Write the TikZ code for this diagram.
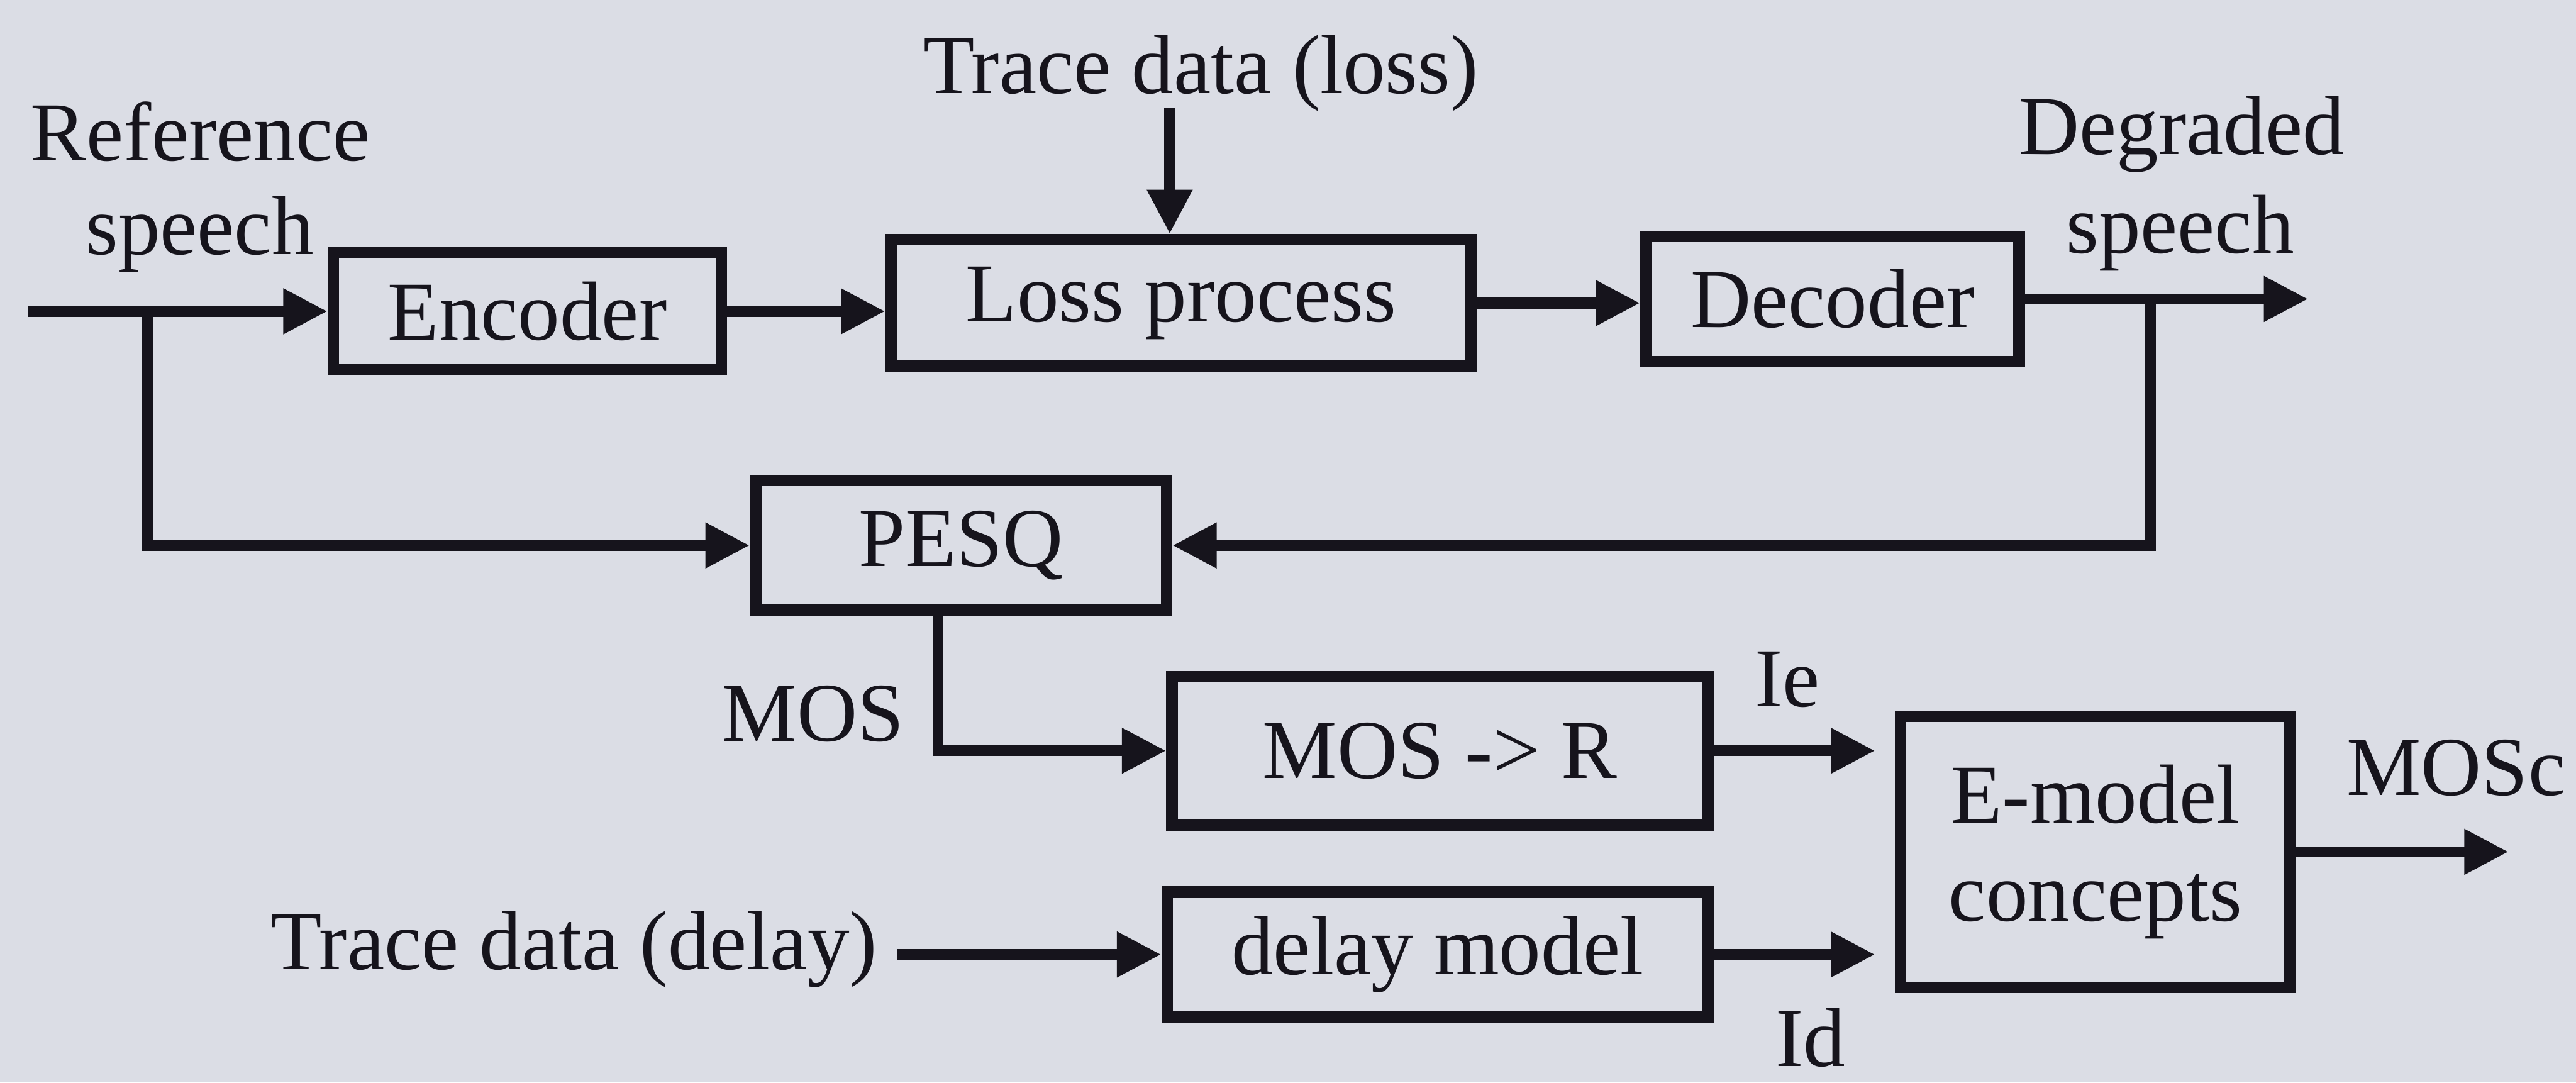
\documentclass[tikz,border=0pt]{standalone}
\usepackage{fontspec}
\setmainfont{Liberation Serif}
\usetikzlibrary{arrows.meta}
\definecolor{paper}{RGB}{219,221,229}
\definecolor{ink}{RGB}{22,20,28}
\begin{document}
\begin{tikzpicture}[x=0.01cm,y=-0.01cm,
    every node/.style={font=\fontsize{14.5}{17}\selectfont,text=ink},
    blk/.style 2 args={draw=ink,line width=2pt,minimum width=#1,minimum height=#2,inner sep=0pt},
    lbl/.style={anchor=base,inner sep=0pt},
    arr/.style={draw=ink,line width=1.9pt,-{Triangle[length=0.27cm,width=0.26cm]}}]
  \fill[paper] (0,0) rectangle (1568,659);
  \useasboundingbox (0,0) rectangle (1568,659);
  \node[blk={2.36cm}{0.71cm}] (enc) at (321,189.5) {Encoder};
  \node[blk={3.53cm}{0.77cm}] (loss) at (719,184.5) {Loss process};
  \node[blk={2.27cm}{0.76cm}] (dec) at (1115.5,182) {Decoder};
  \node[blk={2.50cm}{0.79cm}] (pesq) at (585,332) {PESQ};
  \node[blk={3.26cm}{0.90cm}] (mosr) at (876.5,457) {MOS -> R};
  \node[blk={3.29cm}{0.76cm}] (delay) at (875,581) {delay model};
  \node[blk={2.37cm}{1.65cm},align=center] (emod) at (1275.5,518.5) {E-model\\concepts};
  \node[lbl] (refa) at (122,98) {Reference};
  \node[lbl] (refb) at (121.5,155) {speech};
  \node[lbl] (dega) at (1328,94) {Degraded};
  \node[lbl] (degb) at (1327,154) {speech};
  \node[lbl] (tloss) at (731,57) {Trace data (loss)};
  \node[lbl] (mos) at (495,451) {MOS};
  \node[lbl] (ie) at (1088,430) {Ie};
  \node[lbl] (id) at (1102,649) {Id};
  \node[lbl] (mosc) at (1495,484) {MOSc};
  \node[anchor=base] (tdel) at (349.5,590) {Trace data (delay)};
  \coordinate (in) at (17,189.5);
  \coordinate (bl) at (90,189.5);
  \coordinate (tl) at (712,66);
  \coordinate (br) at (1309,182);
  \coordinate (out) at (1405,182);
  \coordinate (pm) at (571,0);
  \coordinate (mout) at (1527,518.5);
  \draw[arr] (in) -- (enc.west);
  \draw[arr] (bl) |- (pesq.west);
  \draw[arr] (enc.east) -- (enc.east -| loss.west);
  \draw[arr] (tl) -- (tl |- loss.north);
  \draw[arr] (loss.east) -- (loss.east -| dec.west);
  \draw[arr] (dec.east) -- (out);
  \draw[arr] (br) |- (pesq.east);
  \draw[arr] (pm |- pesq.south) |- (mosr.west);
  \draw[arr,shorten >=0.12cm] (mosr.east) -- (mosr.east -| emod.west);
  \draw[arr,shorten >=0.12cm] (delay.east) -- (delay.east -| emod.west);
  \draw[arr] (tdel.east |- delay.west) -- (delay.west);
  \draw[arr] (emod.east) -- (mout);
\end{tikzpicture}
\end{document}
